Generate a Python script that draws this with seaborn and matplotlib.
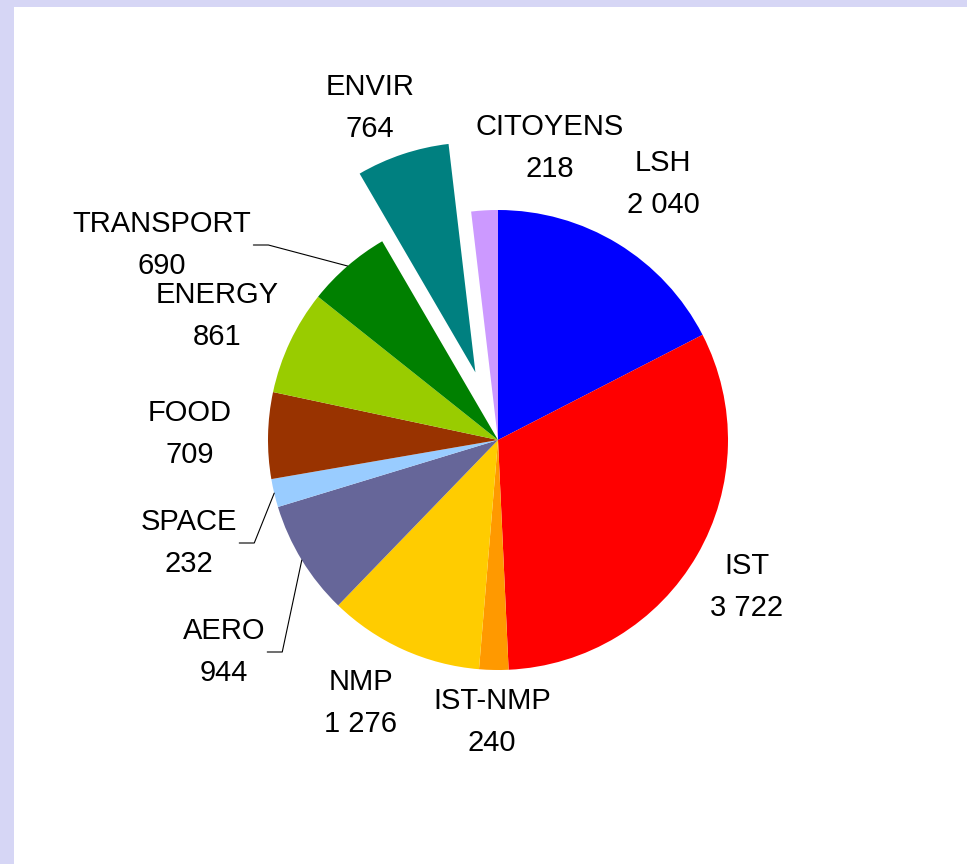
import numpy as np
import matplotlib
matplotlib.use("Agg")
import matplotlib.pyplot as plt
import seaborn as sns

# ----------- data -----------
themes = ["LSH", "IST", "IST-NMP", "NMP", "AERO", "SPACE", "FOOD",
          "ENERGY", "TRANSPORT", "ENVIR", "CITOYENS"]
amounts = [2040, 3722, 240, 1276, 944, 232, 709, 861, 690, 764, 218]
amount_labels = ["2 040", "3 722", "240", "1 276", "944", "232", "709",
                 "861", "690", "764", "218"]
colors = ["#0000FF", "#FF0000", "#FF9900", "#FFCC00", "#666699", "#99CCFF",
          "#993300", "#99CC00", "#008000", "#008080", "#CC99FF"]

# ----------- layout (pixels) -----------
W, H = 967, 864
cx, cy, R = 498, 440, 230
exploded = {"ENVIR": 0.31}
label_pos = {
    "LSH": (663, 184), "IST": (747, 587), "IST-NMP": (492, 722),
    "NMP": (361, 703), "AERO": (224, 652), "SPACE": (189, 543),
    "FOOD": (190, 434), "ENERGY": (217, 316), "TRANSPORT": (162, 245),
    "ENVIR": (370, 108), "CITOYENS": (550, 148),
}
leaders = ["TRANSPORT", "SPACE", "AERO"]

sns.set_style("white")
plt.rcParams["font.family"] = ["Liberation Sans", "DejaVu Sans"]

fig = plt.figure(figsize=(W / 100, H / 100), dpi=100)
fig.patch.set_facecolor("#D6D6F5")
# white panel inside the lavender frame
panel = fig.add_axes([14 / W, 0, 1 - 14 / W, 1 - 7 / H])
panel.set_facecolor("white")
panel.set_xticks([])
panel.set_yticks([])
for s in panel.spines.values():
    s.set_visible(False)

# pie axes covering the figure, data units = pie radius
ax = fig.add_axes([0, 0, 1, 1])
wedges, _ = ax.pie(amounts, colors=colors, startangle=90, counterclock=False,
                   explode=[exploded.get(t, 0) for t in themes],
                   wedgeprops=dict(linewidth=0))
ax.set_aspect("auto")
ax.set_xlim(-cx / R, (W - cx) / R)
ax.set_ylim(-(H - cy) / R, cy / R)
ax.axis("off")
ax.patch.set_alpha(0)

texts = {}
for t, lab in zip(themes, amount_labels):
    px, py = label_pos[t]
    texts[t] = fig.text(px / W, 1 - py / H, f"{t}\n{lab}", ha="center",
                        va="center", fontsize=21, linespacing=1.6,
                        multialignment="center", color="black")

fig.canvas.draw()
renderer = fig.canvas.get_renderer()
inv = ax.transData.inverted()
for t in leaders:
    w = wedges[themes.index(t)]
    mid = np.deg2rad((w.theta1 + w.theta2) / 2)
    ex, ey = w.center[0] + w.r * np.cos(mid), w.center[1] + w.r * np.sin(mid)
    bb = texts[t].get_window_extent(renderer)
    x0, y0 = inv.transform((bb.x1 + 2, (bb.y0 + bb.y1) / 2))
    x1 = x0 + 15 / R
    ax.plot([x0, x1, ex], [y0, y0, ey], color="black", lw=0.8)

fig.savefig("out.png", dpi=100, facecolor=fig.get_facecolor())
